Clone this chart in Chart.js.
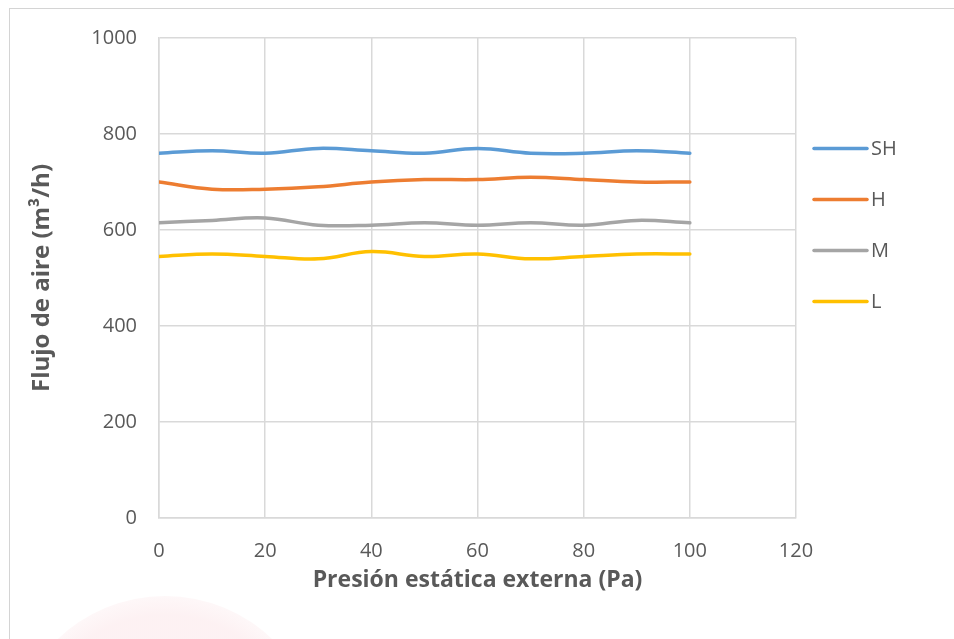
<!DOCTYPE html>
<html>
<head>
<meta charset="utf-8">
<script src="https://cdn.jsdelivr.net/npm/chart.js@4"></script>
<style>
  html, body { margin: 0; padding: 0; background: #fff; }
  #wrap { position: relative; width: 954px; height: 639px; overflow: hidden; }
  #frame { position: absolute; left: 9px; top: 8px; width: 2000px; height: 2000px;
           border-left: 1.5px solid #d4d4d4; border-top: 1.5px solid #d4d4d4; }
  #mark { position: absolute; left: 10px; top: 596px; width: 310px; height: 310px; border-radius: 50%;
          background: radial-gradient(circle, rgba(235,120,135,0.10) 62%, rgba(235,120,135,0.04) 74%, rgba(235,120,135,0) 78%); }
  canvas { position: absolute; left: 0; top: 0; }
</style>
</head>
<body>
<div id="wrap">
  <div id="frame"></div>
  <div id="mark"></div>
  <canvas id="lineChart" width="954" height="639"></canvas>
</div>
<script>
// presión estática externa (Pa)
const presion = [0, 10, 20, 30, 40, 50, 60, 70, 80, 90, 100];

// flujo de aire (m3/h) por velocidad
const flujoSH = [760, 765, 760, 770, 765, 760, 770, 760, 760, 765, 760];
const flujoH  = [700, 685, 685, 690, 700, 705, 705, 710, 705, 700, 700];
const flujoM  = [615, 620, 625, 610, 610, 615, 610, 615, 610, 620, 615];
const flujoL  = [545, 550, 545, 540, 555, 545, 550, 540, 545, 550, 550];

const series = [
    { label: 'SH', values: flujoSH, color: '#5B9BD5' },
    { label: 'H',  values: flujoH,  color: '#ED7D31' },
    { label: 'M',  values: flujoM,  color: '#A5A5A5' },
    { label: 'L',  values: flujoL,  color: '#FFC000' }
];

const textColor = '#595959';
const gridColor = '#d9d9d9';
const fontFamily = '"Open Sans", "Liberation Sans", sans-serif';

// legend drawn at the right like the excel one
const rightLegend = {
    id: 'rightLegend',
    afterDraw(chart) {
        const c = chart.ctx;
        const x0 = chart.chartArea.right + 18;
        c.save();
        c.font = '20px ' + fontFamily;
        c.textBaseline = 'middle';
        c.lineCap = 'round';
        chart.data.datasets.forEach((ds, i) => {
            const y = 148.5 + i * 51;
            c.strokeStyle = ds.borderColor;
            c.lineWidth = 3.5;
            c.beginPath();
            c.moveTo(x0, y);
            c.lineTo(x0 + 53, y);
            c.stroke();
            c.fillStyle = textColor;
            c.fillText(ds.label, x0 + 57, y + 1);
        });
        c.restore();
    }
};

const ctx = document.getElementById('lineChart').getContext('2d');

let chart = new Chart(ctx, {
    type: 'line',
    data: {
        datasets: series.map(s => ({
            label: s.label,
            data: presion.map((p, i) => ({ x: p, y: s.values[i] })),
            borderColor: s.color,
            backgroundColor: s.color,
            borderWidth: 3.5,
            borderCapStyle: 'round',
            pointRadius: 0,
            tension: 0.4,
            fill: false
        }))
    },
    options: {
        responsive: false,
        animation: false,
        layout: {
            padding: { top: 38, right: 158, left: 0, bottom: 0 }
        },
        plugins: {
            legend: { display: false },
            tooltip: { enabled: false }
        },
        scales: {
            x: {
                type: 'linear',
                min: 0,
                max: 120,
                ticks: {
                    stepSize: 20,
                    padding: 21,
                    color: textColor,
                    font: { family: fontFamily, size: 20 },
                    callback: v => String(v)
                },
                grid: { color: gridColor, lineWidth: 1.5, drawTicks: false },
                border: { color: gridColor, width: 1.5 },
                title: {
                    display: true,
                    text: 'Presión estática externa (Pa)',
                    color: textColor,
                    font: { family: fontFamily, size: 23, weight: 'bold' },
                    padding: { top: 0, bottom: 45 }
                },
                afterFit(scale) { scale.height = 121; }
            },
            y: {
                min: 0,
                max: 1000,
                ticks: {
                    stepSize: 200,
                    padding: 22,
                    color: textColor,
                    font: { family: fontFamily, size: 20 },
                    callback: v => String(v)
                },
                grid: { color: gridColor, lineWidth: 1.5, drawTicks: false },
                border: { color: gridColor, width: 1.5 },
                title: {
                    display: true,
                    text: 'Flujo de aire (m³/h)',
                    color: textColor,
                    font: { family: fontFamily, size: 24, weight: 'bold' },
                    padding: { top: 28, bottom: 0 }
                },
                afterFit(scale) { scale.width = 159; }
            }
        }
    },
    plugins: [rightLegend]
});
</script>
</body>
</html>
